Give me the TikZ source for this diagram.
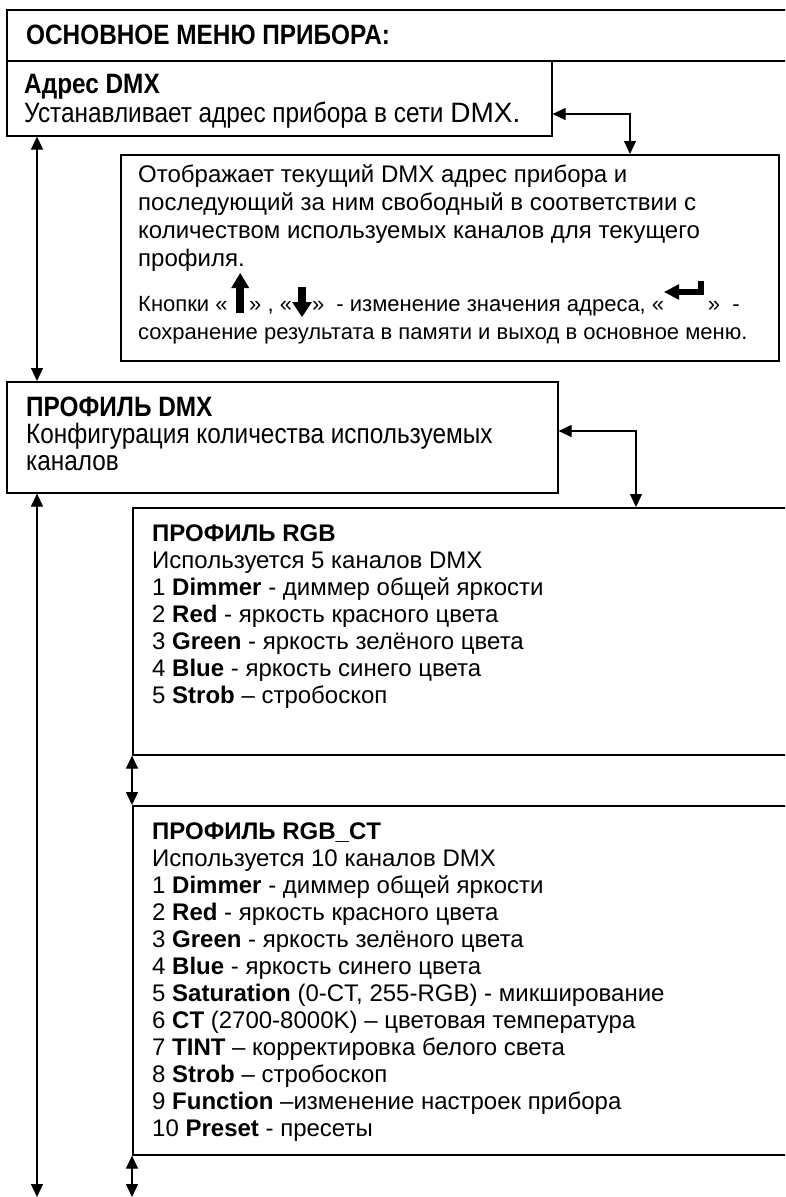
\documentclass[tikz,border=0pt]{standalone}
\usepackage{fontspec}
\setmainfont{Liberation Sans}
\newfontfamily\narrowf{Liberation Sans}[FakeStretch=0.87]
\usetikzlibrary{arrows.meta}
\newcommand\upico{\tikz[x=1pt,y=1pt,baseline=0pt]{\fill (-4,-2) rectangle (4,24); \fill (-9,23) -- (0,38) -- (9,23) -- cycle;}}
\newcommand\downico{\tikz[x=1pt,y=1pt,baseline=0pt]{\fill (-4,24) rectangle (4,8); \fill (-10,9) -- (0,-6) -- (10,9) -- cycle;}}
\newcommand\enterico{\tikz[x=1pt,y=1pt,baseline=0pt]{\fill (0,19) -- (15,11) -- (15,27) -- cycle; \fill (14,16) rectangle (40,22); \fill (34,16) rectangle (40,30);}}
\begin{document}
\begin{tikzpicture}[x=1pt,y=-1pt,
  box/.style={draw, line width=1.6pt, inner sep=0pt, anchor=north west},
  tip/.tip={Triangle[length=13pt,width=12pt]},
  both/.style={line width=1.2pt, tip-tip},
  nb/.style={anchor=base west, inner sep=0pt, font=\narrowf\bfseries\fontsize{28}{32}\selectfont},
  nr/.style={anchor=base west, inner sep=0pt, font=\narrowf\fontsize{28}{32}\selectfont},
  dt/.style={anchor=base west, inner sep=0pt, font=\fontsize{24}{28}\selectfont},
  ds/.style={anchor=base west, inner sep=0pt, font=\fontsize{22}{26}\selectfont},
  rt/.style={anchor=base west, inner sep=0pt, font=\fontsize{24}{27}\selectfont}]
\useasboundingbox (0,0) rectangle (785,1197);
\clip (0,0) rectangle (785,1197);
% boxes
\node[box, minimum width=800pt, minimum height=51pt] (menu) at (6,9) {};
\node[box, minimum width=545pt, minimum height=75pt] (addr) at (6,60) {};
\node[box, minimum width=658pt, minimum height=206pt] (desc) at (120,154) {};
\node[box, minimum width=551pt, minimum height=111pt] (prof) at (6,381) {};
\node[box, minimum width=700pt, minimum height=247pt] (rgb) at (132,507) {};
\node[box, minimum width=700pt, minimum height=349pt] (rgbct) at (132,805) {};
% texts
\node[nb] (tmenu) at (26,44) {ОСНОВНОЕ МЕНЮ ПРИБОРА:};
\node[nb] (taddr1) at (24,93) {Адрес DMX};
\node[nr] (taddr2) at (24,122) {Устанавливает адрес прибора в сети {\rmfamily\fontsize{28}{32}\selectfont DMX.}};
\node[dt] (td1) at (138,182) {Отображает текущий DMX адрес прибора и};
\node[dt] (td2) at (138,210) {последующий за ним свободный в соответствии с};
\node[dt] (td3) at (138,238) {количеством используемых каналов для текущего};
\node[dt] (td4) at (138,266) {профиля.};
\node[ds] (td5) at (138,311) {Кнопки «\,\upico» , «\downico»\ \ - изменение значения адреса, «\enterico\,»\ \ -};
\node[ds] (td6) at (138,339) {сохранение результата в памяти и выход в основное меню.};
\node[nb] (tp1) at (26,416) {ПРОФИЛЬ DMX};
\node[nr] (tp2) at (26,443) {Конфигурация количества используемых};
\node[nr] (tp3) at (26,470) {каналов};
\node[rt] (tr0) at (152,541) {\textbf{ПРОФИЛЬ RGB}};
\node[rt] (tr1) at (152,568) {Используется 5 каналов DMX};
\node[rt] (tr2) at (152,595) {1 \textbf{Dimmer} - диммер общей яркости};
\node[rt] (tr3) at (152,622) {2 \textbf{Red} - яркость красного цвета};
\node[rt] (tr4) at (152,649) {3 \textbf{Green} - яркость зелёного цвета};
\node[rt] (tr5) at (152,676) {4 \textbf{Blue} - яркость синего цвета};
\node[rt] (tr6) at (152,703) {5 \textbf{Strob} – стробоскоп};
\node[rt] (tc0) at (152,839) {\textbf{ПРОФИЛЬ RGB\_CT}};
\node[rt] (tc1) at (152,866) {Используется 10 каналов DMX};
\node[rt] (tc2) at (152,893) {1 \textbf{Dimmer} - диммер общей яркости};
\node[rt] (tc3) at (152,920) {2 \textbf{Red} - яркость красного цвета};
\node[rt] (tc4) at (152,947) {3 \textbf{Green} - яркость зелёного цвета};
\node[rt] (tc5) at (152,974) {4 \textbf{Blue} - яркость синего цвета};
\node[rt] (tc6) at (152,1001) {5 \textbf{Saturation} (0-CT, 255-RGB) - микширование};
\node[rt] (tc7) at (152,1028) {6 \textbf{CT} (2700-8000K) – цветовая температура};
\node[rt] (tc8) at (152,1055) {7 \textbf{TINT} – корректировка белого света};
\node[rt] (tc9) at (152,1082) {8 \textbf{Strob} – стробоскоп};
\node[rt] (tc10) at (152,1109) {9 \textbf{Function} –изменение настроек прибора};
\node[rt] (tc11) at (152,1136) {10 \textbf{Preset} - пресеты};
% connector helper coordinates
\coordinate (kA) at (630,114);
\coordinate (kB) at (636,431);
\coordinate (lx) at (37,0);
\coordinate (endL) at (37,1197);
\coordinate (endS) at (132,1197);
% connectors
\draw[both] (addr.east |- kA) -| (desc.north -| kA);
\draw[both] (prof.east |- kB) -| (rgb.north -| kB);
\draw[both] (addr.south -| lx) -- (prof.north -| lx);
\draw[both] (prof.south -| lx) -- (endL);
\draw[both] (rgb.south west) -- (rgbct.north west);
\draw[both] (rgbct.south west) -- (endS);
\end{tikzpicture}
\end{document}
